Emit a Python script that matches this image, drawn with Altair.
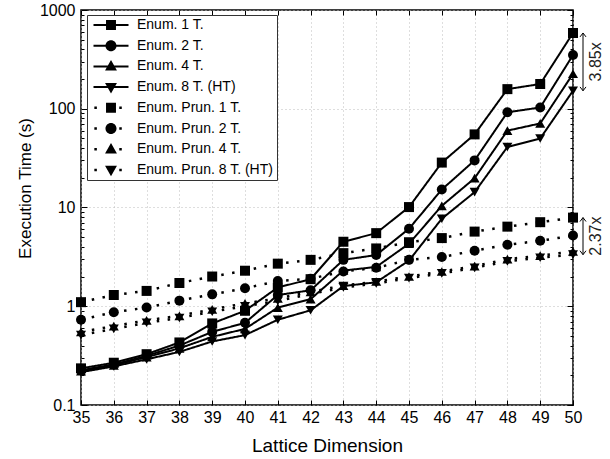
import altair as alt
import pandas as pd
import numpy as np

# ---------------- data ----------------
dims = list(range(35, 51))

enum_1t = [0.235, 0.268, 0.327, 0.43, 0.67, 0.90, 1.55, 1.88, 4.5, 5.5, 10.1, 28.5, 55.0, 158.0, 178.0, 585.0]
enum_2t = [0.225, 0.258, 0.315, 0.40, 0.55, 0.68, 1.30, 1.45, 2.95, 3.3, 6.1, 15.2, 30.0, 92.0, 103.0, 350.0]
enum_4t = [0.220, 0.252, 0.305, 0.375, 0.49, 0.59, 0.97, 1.18, 2.3, 2.5, 4.3, 10.4, 19.8, 60.0, 71.0, 226.0]
enum_8t = [0.215, 0.246, 0.290, 0.345, 0.44, 0.51, 0.73, 0.91, 1.6, 1.75, 2.9, 7.7, 14.3, 41.0, 50.0, 152.0]

prun_1t = [1.10, 1.30, 1.43, 1.72, 2.00, 2.29, 2.70, 2.95, 3.45, 3.85, 4.45, 4.90, 5.70, 6.40, 7.10, 7.90]
prun_2t = [0.73, 0.87, 0.97, 1.14, 1.32, 1.52, 1.80, 1.90, 2.25, 2.45, 2.95, 3.15, 3.65, 4.20, 4.60, 5.20]
prun_4t = [0.55, 0.63, 0.72, 0.80, 0.93, 1.07, 1.20, 1.40, 1.62, 1.78, 2.00, 2.25, 2.55, 3.00, 3.25, 3.60]
prun_8t = [0.51, 0.59, 0.68, 0.76, 0.88, 1.00, 1.13, 1.33, 1.55, 1.70, 1.93, 2.15, 2.45, 2.85, 3.10, 3.33]

series_names = [
    "Enum. 1 T.", "Enum. 2 T.", "Enum. 4 T.", "Enum. 8 T. (HT)",
    "Enum. Prun. 1 T.", "Enum. Prun. 2 T.", "Enum. Prun. 4 T.", "Enum. Prun. 8 T. (HT)",
]
series_values = [enum_1t, enum_2t, enum_4t, enum_8t, prun_1t, prun_2t, prun_4t, prun_8t]
series_styles = ["solid"] * 4 + ["dotted"] * 4

y_major = [0.1, 1, 10, 100, 1000]
ann_labels = ["3.85x", "2.37x"]
ann_top = [enum_1t[-1], prun_1t[-1]]
ann_bot = [enum_8t[-1], prun_8t[-1]]

# ---------------- tables ----------------
rows = []
for name, vals, style in zip(series_names, series_values, series_styles):
    for d, v in zip(dims, vals):
        rows.append({"dim": d, "time": v, "series": name, "style": style})
df = pd.DataFrame(rows)

ann = pd.DataFrame({"label": ann_labels, "top": ann_top, "bot": ann_bot})
ann["mid"] = np.sqrt(ann["top"] * ann["bot"])

y_ticks = y_major + [d * k for d in y_major[:-1] for k in range(2, 10)]

# ---------------- styling ----------------
W, H = 492, 395
FONT = "Liberation Sans"
marker_shapes = ["square", "circle", "triangle-up", "triangle-down"] * 2

line_seg = "M-2.5,-0.14H2.5V0.14H-2.5Z"
dots = "M-2.38,-0.18H-2.02V0.18H-2.38ZM1.18,-0.18H1.54V0.18H1.18Z"
mk = [
    "M-0.71,-0.71H0.71V0.71H-0.71Z",
    "M0.79,0A0.79,0.79 0 1,1 -0.79,0A0.79,0.79 0 1,1 0.79,0Z",
    "M0,-0.9L0.85,0.6L-0.85,0.6Z",
    "M0,0.9L-0.85,-0.6L0.85,-0.6Z",
]
legend_paths = [line_seg + m for m in mk] + [dots + m for m in mk]

xs = alt.Scale(domain=[35, 50], nice=False, zero=False)
ys = alt.Scale(type="log", domain=[0.1, 1000], nice=False)

major_test = "indexof([0.1,1,10,100,1000], datum.value) >= 0"

lines = alt.Chart(df).mark_line(color="black").encode(
    x=alt.X("dim:Q", scale=xs, axis=alt.Axis(
        orient="bottom", title="Lattice Dimension", values=dims, tickSize=0,
        labelPadding=4, labelFontSize=16, titleFontSize=19, titleFontWeight="normal",
        grid=True, gridDash=[1, 3], gridColor="#bdbdbd", domain=False, labelFlush=False,
        titleY=40, titleBaseline="middle", labelFont=FONT, titleFont=FONT,
        labelColor="black", titleColor="black")),
    y=alt.Y("time:Q", scale=ys, axis=alt.Axis(
        orient="left", title="Execution Time (s)", values=y_major, format="~g", tickSize=0,
        labelPadding=6, labelFontSize=16, titleFontSize=17, titleFontWeight="normal",
        grid=True, gridDash=[1, 3], gridColor="#bdbdbd", domain=False, labelFlush=False,
        titleX=-56, titleY=178, titleBaseline="middle", labelFont=FONT, titleFont=FONT,
        labelColor="black", titleColor="black")),
    detail="series:N",
    strokeDash=alt.StrokeDash("style:N", scale=alt.Scale(domain=["solid", "dotted"], range=[[1, 0], [2.5, 8.5]]), legend=None),
    strokeWidth=alt.StrokeWidth("style:N", scale=alt.Scale(domain=["solid", "dotted"], range=[2, 2.5]), legend=None),
)

tick_cond = {"condition": {"test": major_test, "value": 6}, "value": 3}

points = alt.Chart(df).mark_point(filled=True, color="black", size=100, opacity=1).encode(
    x=alt.X("dim:Q", scale=xs, axis=alt.Axis(
        orient="top", offset=-H, values=dims, labels=False, tickSize=5, tickColor="black",
        grid=False, domain=False, title=None)),
    y=alt.Y("time:Q", scale=ys, axis=alt.Axis(
        orient="right", offset=-W, values=y_ticks, labels=False, tickSize=tick_cond, tickColor="black",
        grid=False, domain=False, title=None)),
    shape=alt.Shape("series:N", scale=alt.Scale(domain=series_names, range=marker_shapes), legend=None),
)

legend_layer = alt.Chart(df).mark_point(filled=True, color="black", opacity=0).encode(
    x=alt.X("dim:Q", scale=xs, axis=alt.Axis(
        orient="bottom", offset=-H, values=dims, labels=False, tickSize=5, tickColor="black",
        grid=False, domain=False, title=None)),
    y=alt.Y("time:Q", scale=ys, axis=alt.Axis(
        orient="left", offset=-W, values=y_ticks, labels=False, tickSize=tick_cond, tickColor="black",
        grid=False, domain=False, title=None)),
    shape=alt.Shape("series:N", scale=alt.Scale(domain=series_names, range=legend_paths), legend=alt.Legend(
        title=None, orient="none", legendX=6, legendY=5, symbolSize=196, symbolOpacity=1,
        symbolFillColor="black", symbolStrokeWidth=0, symbolOffset=14, labelOffset=19,
        labelFontSize=14, labelFont=FONT, labelColor="black", rowPadding=6.7, padding=3,
        strokeColor="#333333", fillColor="white", labelLimit=300, cornerRadius=0)),
)

ann_rule = alt.Chart(ann).mark_rule(color="black", strokeWidth=1).encode(
    x=alt.value(W + 10),
    y=alt.Y("top:Q", scale=ys, axis=None),
    y2="bot:Q",
)
ann_up = alt.Chart(ann).mark_point(shape="M-1,1.3L0,0L1,1.3", filled=False, color="black",
                                   size=36, strokeWidth=1, opacity=1).encode(
    x=alt.value(W + 10),
    y=alt.Y("top:Q", scale=ys, axis=None),
)
ann_down = alt.Chart(ann).mark_point(shape="M-1,-1.3L0,0L1,-1.3", filled=False, color="black",
                                     size=36, strokeWidth=1, opacity=1).encode(
    x=alt.value(W + 10),
    y=alt.Y("bot:Q", scale=ys, axis=None),
)
ann_text = alt.Chart(ann).mark_text(angle=270, fontSize=16, font=FONT, color="#222222",
                                    align="center", baseline="middle").encode(
    x=alt.value(W + 23),
    y=alt.Y("mid:Q", scale=ys, axis=None),
    text="label:N",
)

chart = alt.layer(lines, points, legend_layer, ann_rule, ann_up, ann_down, ann_text).resolve_scale(
    shape="independent"
).resolve_axis(
    x="independent", y="independent"
).properties(
    width=W, height=H,
    autosize=alt.AutoSizeParams(type="none"),
    padding={"left": 81, "top": 10, "right": 610 - 81 - W, "bottom": 459 - 10 - H},
).configure_view(stroke="black", strokeWidth=1.5)

chart.save("out.html", embed_options={"renderer": "svg", "actions": False})
